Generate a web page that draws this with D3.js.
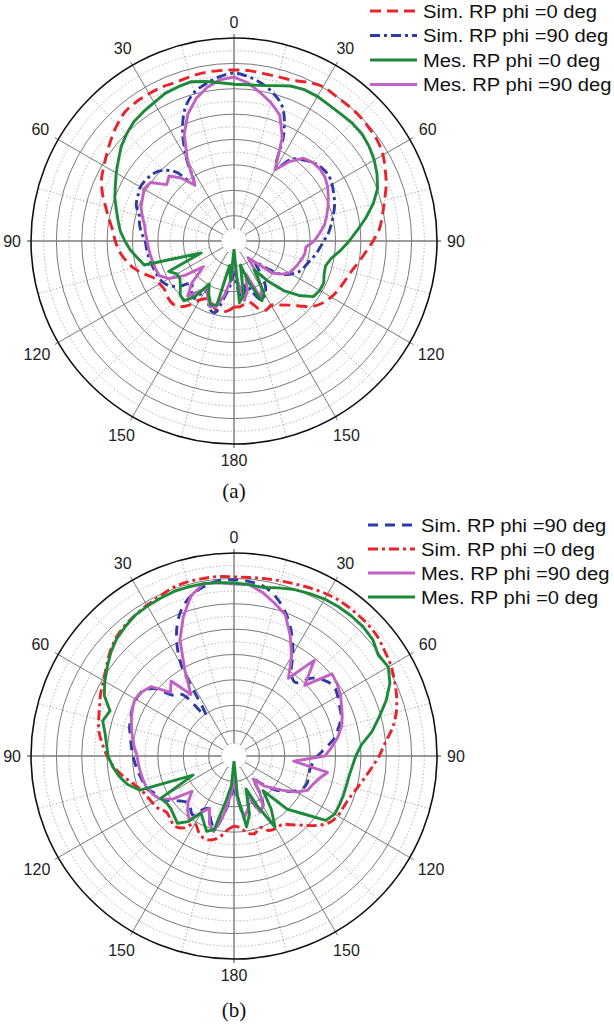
<!DOCTYPE html>
<html>
<head>
<meta charset="utf-8">
<script src="https://cdn.jsdelivr.net/npm/d3@7"></script>
<style>
  body { margin: 0; background: #fff; }
  svg { display: block; }
  text { font-family: "Liberation Sans", Arial, sans-serif; }
</style>
</head>
<body>
<div id="chart"></div>
<script>
// angle grid in degrees (0 = top, clockwise positive), values in dB
const angles = d3.range(-180, 181, 5);

// panel (a)
const simPhi0A = [-27.0,-26.2,-25.8,-26.0,-27.0,-27.4,-26.6,-24.6,-23.1,-22.7,
  -22.9,-23.3,-23.1,-22.7,-21.1,-19.5,-18.3,-17.3,-16.6,-16.0,
  -15.0,-13.8,-12.4,-11.2,-10.4,-9.5,-8.5,-7.5,-6.7,-6.5,
  -6.5,-6.5,-6.7,-6.5,-6.3,-6.3,
  -6.3,
  -6.3,-6.5,-6.5,-6.3,-5.5,-4.9,-5.1,-5.1,-5.1,-5.3,
  -5.5,-6.1,-7.1,-8.1,-9.3,-10.3,-11.2,-12.6,-14.0,-15.2,
  -16.2,-16.8,-17.3,-17.9,-18.7,-19.9,-21.9,-23.5,-24.6,-25.4,
  -25.0,-25.8,-27.4,-27.4,-27.0,-27.0];
const simPhi90A = [-34.1,-31.1,-28.6,-25.4,-25.8,-28.2,-28.6,-26.2,-27.0,-28.2,
  -26.2,-24.6,-23.8,-23.5,-23.3,-23.1,-22.9,-22.7,-22.5,-21.7,
  -21.1,-20.7,-19.5,-19.1,-18.7,-18.9,-19.3,-20.3,-22.3,-26.2,
  -21.3,-16.0,-12.0,-9.7,-8.5,-7.5,
  -6.9,
  -7.5,-8.5,-9.9,-12.0,-16.8,-23.3,-20.3,-19.1,-18.1,-17.5,
  -17.3,-17.7,-18.3,-18.9,-19.7,-20.5,-21.3,-22.3,-23.1,-23.8,
  -24.6,-25.2,-25.8,-27.0,-28.6,-31.7,-34.1,-32.1,-29.2,-27.8,
  -27.2,-29.2,-31.1,-28.2,-30.2,-34.1];
const mesPhi0A = [-38.4,-32.1,-35.1,-27.0,-26.6,-28.2,-30.2,-26.6,-24.6,-25.0,
  -26.2,-27.0,-27.0,-25.8,-33.1,-21.7,-20.7,-19.5,-18.5,-17.5,
  -16.8,-16.0,-15.0,-14.2,-13.2,-12.2,-11.0,-10.1,-9.3,-8.9,
  -8.5,-7.9,-7.7,-7.5,-8.1,-8.7,
  -9.1,
  -9.1,-8.9,-8.3,-7.5,-7.1,-7.1,-7.3,-7.3,-7.1,-7.1,
  -7.5,-8.1,-8.9,-9.9,-11.6,-13.6,-15.6,-17.3,-18.9,-20.5,
  -21.3,-21.1,-20.5,-20.5,-20.9,-23.3,-26.2,-29.8,-33.1,-28.2,
  -27.0,-31.1,-35.1,-29.2,-27.8,-38.4];
const mesPhi90A = [-36.1,-32.1,-29.2,-26.6,-26.2,-27.8,-29.2,-27.8,-25.8,-28.2,
  -32.1,-28.2,-25.2,-23.8,-23.6,-23.5,-23.3,-23.1,-22.9,-22.5,
  -22.1,-21.3,-20.5,-20.1,-19.5,-19.9,-22.7,-21.9,-23.8,-26.6,
  -21.7,-16.8,-13.4,-11.0,-9.3,-8.1,
  -7.7,
  -8.7,-10.3,-11.8,-13.6,-17.5,-23.8,-20.9,-18.7,-18.1,-17.9,
  -18.1,-18.7,-19.5,-20.3,-21.1,-21.9,-23.1,-24.2,-25.8,-25.8,
  -26.2,-26.6,-27.0,-27.4,-28.6,-30.2,-34.1,-35.7,-32.1,-29.0,
  -27.8,-33.1,-29.8,-28.2,-32.1,-36.1];

// panel (b)
const simPhi90B = [-34.1,-31.7,-28.2,-25.2,-26.6,-28.6,-27.8,-25.8,-26.6,-27.0,
  -26.2,-24.6,-23.3,-22.7,-21.5,-21.3,-20.9,-20.5,-20.1,-19.7,
  -19.3,-18.7,-18.3,-17.9,-17.7,-17.9,-19.3,-23.1,-24.2,-30.2,
  -19.1,-13.2,-9.5,-7.3,-6.1,-5.3,
  -5.3,
  -5.5,-6.1,-7.7,-10.1,-13.2,-16.8,-20.3,-21.1,-18.3,-16.8,
  -16.0,-16.4,-17.0,-17.5,-18.7,-19.9,-21.9,-23.5,-24.4,-24.8,
  -24.8,-24.6,-25.0,-26.2,-27.8,-29.8,-32.1,-34.1,-31.1,-28.6,
  -28.2,-31.1,-29.2,-28.2,-31.1,-34.1];
const simPhi0B = [-26.2,-25.4,-23.8,-22.9,-22.7,-23.5,-24.6,-22.7,-21.9,-22.3,
  -22.7,-21.9,-21.5,-21.1,-20.5,-19.3,-17.7,-16.2,-15.0,-14.0,
  -13.0,-12.4,-11.8,-11.0,-10.3,-9.3,-8.1,-7.1,-6.5,-6.1,
  -5.7,-5.3,-4.7,-4.5,-4.5,-4.5,
  -4.7,
  -4.7,-4.5,-4.3,-4.0,-3.6,-3.2,-3.0,-3.0,-3.0,-3.2,
  -3.8,-4.3,-5.1,-5.9,-6.9,-8.3,-10.1,-11.4,-12.8,-14.0,
  -15.0,-15.8,-16.2,-16.4,-17.1,-18.7,-20.7,-22.3,-23.5,-23.5,
  -23.8,-25.0,-24.2,-24.6,-25.8,-26.2];
const mesPhi90B = [-35.1,-32.1,-28.2,-24.6,-25.8,-28.6,-27.2,-24.6,-25.8,-27.2,
  -29.2,-25.2,-23.1,-22.3,-21.7,-21.5,-21.3,-21.1,-20.9,-20.3,
  -19.7,-19.1,-18.5,-17.9,-17.5,-17.9,-18.7,-22.3,-20.7,-25.2,
  -20.7,-14.8,-10.8,-7.3,-5.5,-5.7,
  -6.1,
  -6.1,-7.3,-8.9,-10.4,-13.8,-17.3,-21.3,-15.4,-20.3,-14.8,
  -15.2,-15.8,-16.6,-17.3,-18.1,-19.3,-20.7,-22.1,-28.2,-21.3,
  -22.7,-23.5,-24.0,-25.8,-28.2,-30.2,-31.7,-34.1,-31.1,-28.6,
  -27.8,-32.1,-29.2,-27.8,-31.1,-35.1];
const mesPhi0B = [-39.0,-34.1,-31.1,-25.0,-24.2,-25.8,-27.0,-24.2,-22.7,-23.3,
  -23.8,-23.8,-23.3,-31.1,-20.3,-18.3,-17.0,-16.0,-15.2,-14.8,
  -14.2,-13.2,-14.0,-11.8,-10.6,-9.5,-8.3,-7.3,-6.7,-6.1,
  -5.9,-5.7,-5.5,-5.5,-5.5,-5.7,
  -5.9,
  -6.1,-6.3,-5.7,-5.1,-4.7,-4.3,-4.1,-4.0,-4.0,-4.3,
  -5.3,-4.9,-6.1,-8.1,-10.4,-12.4,-14.8,-16.0,-16.6,-17.0,
  -17.1,-17.1,-17.1,-17.1,-17.9,-22.3,-25.2,-31.1,-27.2,-23.8,
  -29.2,-33.1,-28.2,-25.8,-32.1,-39.0];

const tickAngles = [-150, -120, -90, -60, -30, 0, 30, 60, 90, 120, 150, 180];
const tickLabels = ["150", "120", "90", "60", "30", "0", "30", "60", "90", "120", "150", "180"];
const ringMajor = [-35, -30, -25, -20, -15, -10, -5];
const ringMinor = [-37.5, -32.5, -27.5, -22.5, -17.5, -12.5, -7.5, -2.5];

const RED = "#e8242a", BLUE = "#2b3ca6", GREEN = "#1d8a3a", MAGENTA = "#c261c4";

const panels = [
  {
    cy: 241, caption: "(a)", captionY: 491,
    legendY: [11, 35.5, 60, 84.5], legendX: 370,
    series: [
      {name: "Sim. RP phi =0 deg", values: simPhi0A, color: RED, dash: "11,6", sim: true},
      {name: "Sim. RP phi =90 deg", values: simPhi90A, color: BLUE, dash: "10,4,3,4", sim: true},
      {name: "Mes. RP phi =0 deg", values: mesPhi0A, color: GREEN, dash: null},
      {name: "Mes. RP phi =90 deg", values: mesPhi90A, color: MAGENTA, dash: null}
    ],
    drawOrder: [0, 1, 3, 2]
  },
  {
    cy: 756, caption: "(b)", captionY: 1010,
    legendY: [525, 549, 573, 597], legendX: 368,
    series: [
      {name: "Sim. RP phi =90 deg", values: simPhi90B, color: BLUE, dash: "10,7", sim: true},
      {name: "Sim. RP phi =0 deg", values: simPhi0B, color: RED, dash: "10,4,3,4", sim: true},
      {name: "Mes. RP phi =90 deg", values: mesPhi90B, color: MAGENTA, dash: null},
      {name: "Mes. RP phi =0 deg", values: mesPhi0B, color: GREEN, dash: null}
    ],
    drawOrder: [0, 1, 2, 3]
  }
];

const width = 614, height = 1028;
const cx = 234, R = 203;

const svg = d3.select("#chart").append("svg")
  .attr("width", width)
  .attr("height", height);

const rScale = d3.scaleLinear().domain([-40, 0]).range([0, R]);
const rad = d => d * Math.PI / 180;

panels.forEach(p => {
  const g = svg.append("g").attr("transform", `translate(${cx},${p.cy})`);

  // dotted rings
  g.selectAll("circle.minor").data(ringMinor).enter().append("circle")
    .attr("r", d => rScale(d))
    .attr("fill", "none")
    .attr("stroke", "#a8a8a8")
    .attr("stroke-width", 0.9)
    .attr("stroke-dasharray", "1.5,2");

  // minor spokes every 15 deg
  const minorSpokes = d3.range(15, 360, 30);
  g.selectAll("line.minor").data(minorSpokes).enter().append("line")
    .attr("x1", d => rScale(-35) * Math.sin(rad(d)))
    .attr("y1", d => -rScale(-35) * Math.cos(rad(d)))
    .attr("x2", d => R * Math.sin(rad(d)))
    .attr("y2", d => -R * Math.cos(rad(d)))
    .attr("stroke", "#a8a8a8")
    .attr("stroke-width", 0.9)
    .attr("stroke-dasharray", "1.5,2");

  // solid rings
  g.selectAll("circle.major").data(ringMajor).enter().append("circle")
    .attr("r", d => rScale(d))
    .attr("fill", "none")
    .attr("stroke", "#6a6a6a")
    .attr("stroke-width", 0.9);

  // major spokes every 30 deg
  const majorSpokes = d3.range(0, 360, 30);
  g.selectAll("line.major").data(majorSpokes).enter().append("line")
    .attr("x1", d => rScale(-37.5) * Math.sin(rad(d)))
    .attr("y1", d => -rScale(-37.5) * Math.cos(rad(d)))
    .attr("x2", d => (R + 4) * Math.sin(rad(d)))
    .attr("y2", d => -(R + 4) * Math.cos(rad(d)))
    .attr("stroke", d => d % 90 === 0 ? "#7a7a7a" : "#6a6a6a")
    .attr("stroke-width", d => d % 90 === 0 ? 1.4 : 0.9);

  // outer ring
  g.append("circle")
    .attr("r", R)
    .attr("fill", "none")
    .attr("stroke", "#111")
    .attr("stroke-width", 1.6);

  // angle labels
  g.selectAll("text.tick").data(tickAngles).enter().append("text")
    .attr("font-size", 16)
    .attr("fill", "#222")
    .attr("text-anchor", "middle")
    .attr("dy", "0.35em")
    .text((d, i) => tickLabels[i])
    .each(function(d) {
      const w = this.getComputedTextLength();
      const a = rad(d);
      const dist = R + 10 + (w / 2) * Math.abs(Math.sin(a)) + 6 * Math.abs(Math.cos(a));
      d3.select(this)
        .attr("x", dist * Math.sin(a))
        .attr("y", -dist * Math.cos(a));
    });

  // curves
  const lineSim = d3.lineRadial()
    .angle(d => rad(d[0]))
    .radius(d => rScale(d[1]))
    .curve(d3.curveCatmullRom.alpha(0.5));
  const lineMes = d3.lineRadial()
    .angle(d => rad(d[0]))
    .radius(d => rScale(d[1]))
    .curve(d3.curveLinear);

  p.drawOrder.forEach(k => {
    const s = p.series[k];
    const pts = angles.map((a, i) => [a, s.values[i]]);
    g.append("path")
      .attr("d", (s.sim ? lineSim : lineMes)(pts))
      .attr("fill", "none")
      .attr("stroke", s.color)
      .attr("stroke-width", 2.9)
      .attr("stroke-linejoin", "round")
      .attr("stroke-dasharray", s.dash);
  });

  // legend
  const lg = svg.append("g");
  p.series.forEach((s, i) => {
    const y = p.legendY[i];
    lg.append("line")
      .attr("x1", p.legendX).attr("x2", p.legendX + 47)
      .attr("y1", y).attr("y2", y)
      .attr("stroke", s.color)
      .attr("stroke-width", 3)
      .attr("stroke-dasharray", s.dash);
    const t = lg.append("text")
      .attr("x", p.legendX + 53)
      .attr("y", y + 6.5)
      .attr("font-size", 18)
      .attr("fill", "#111")
      .text(s.name);
    // the source text is set a little wider than plain Arial
    const w = t.node().getComputedTextLength();
    t.attr("textLength", w * 1.12).attr("lengthAdjust", "spacingAndGlyphs");
  });

  // caption
  svg.append("text")
    .attr("x", cx)
    .attr("y", p.captionY)
    .attr("dy", "0.35em")
    .attr("text-anchor", "middle")
    .attr("font-size", 21)
    .style("font-family", "'Liberation Serif', 'Times New Roman', serif")
    .attr("fill", "#111")
    .text(p.caption);
});
</script>
</body>
</html>
